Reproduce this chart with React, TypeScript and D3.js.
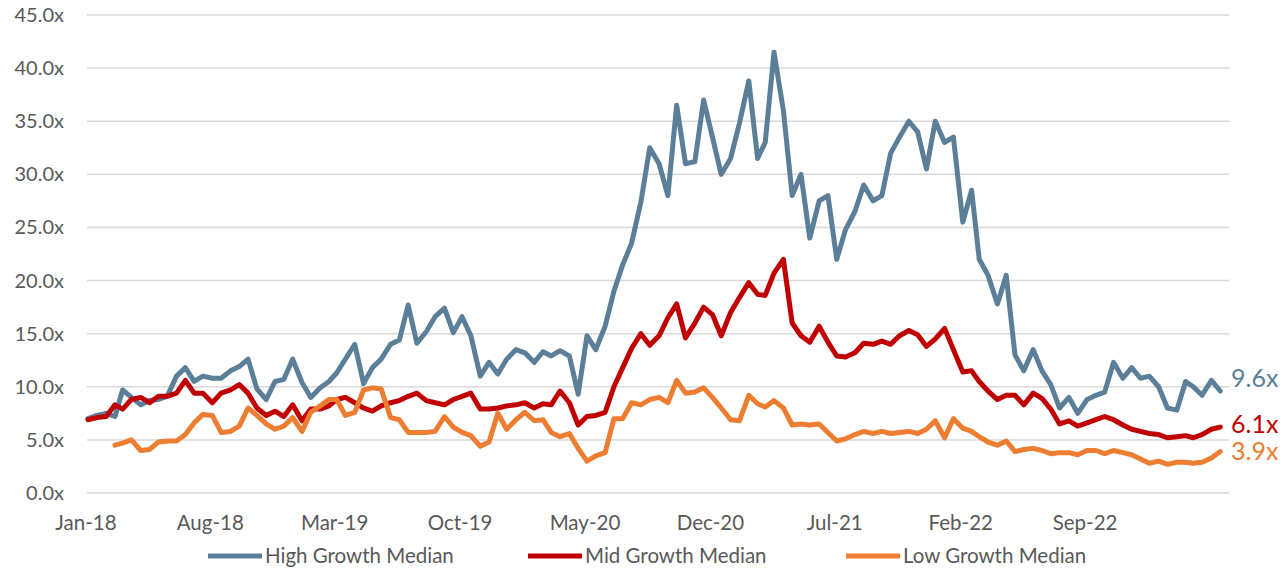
import React, { useEffect, useRef } from 'react';
import * as d3 from 'd3';

// half-monthly readings (1st and 16th of each month), Jan-18 .. Apr-23
const highGrowth = [
  7.0, 7.3, 7.5, 7.2, 9.7, 9.0, 8.3, 8.7, 8.8, 9.1, 11.0, 11.8, 10.5, 11.0, 10.8, 10.8,
  11.5, 11.9, 12.6, 9.8, 8.8, 10.5, 10.7, 12.6, 10.4, 9.0, 9.9, 10.5, 11.3, 12.6, 14.0, 10.3,
  11.8, 12.6, 14.0, 14.4, 17.7, 14.1, 15.2, 16.6, 17.4, 15.1, 16.6, 14.8, 11.0, 12.3, 11.2, 12.6,
  13.5, 13.2, 12.3, 13.3, 12.9, 13.4, 12.9, 9.3, 14.8, 13.5, 15.7, 19.0, 21.5, 23.5, 27.4, 32.5,
  31.0, 28.0, 36.5, 31.0, 31.2, 37.0, 33.5, 30.0, 31.5, 34.8, 38.8, 31.5, 33.0, 41.5, 36.0, 28.0,
  30.0, 24.0, 27.5, 28.0, 22.0, 24.8, 26.5, 29.0, 27.5, 28.0, 32.0, 33.5, 35.0, 34.0, 30.5, 35.0,
  33.0, 33.5, 25.5, 28.5, 22.0, 20.5, 17.8, 20.5, 13.0, 11.5, 13.5, 11.5, 10.2, 8.0, 9.0, 7.5,
  8.8, 9.2, 9.5, 12.3, 10.8, 11.8, 10.8, 11.0, 10.0, 8.0, 7.8, 10.5, 10.0, 9.2, 10.6, 9.6,
];

const midGrowth = [
  6.9, 7.1, 7.2, 8.3, 7.9, 8.8, 9.0, 8.5, 9.1, 9.1, 9.4, 10.6, 9.4, 9.4, 8.5, 9.4,
  9.7, 10.2, 9.4, 8.0, 7.3, 7.7, 7.2, 8.3, 6.8, 7.9, 7.9, 8.2, 8.8, 9.0, 8.5, 8.0,
  7.7, 8.2, 8.5, 8.7, 9.1, 9.4, 8.7, 8.5, 8.3, 8.8, 9.1, 9.4, 7.9, 7.9, 8.0, 8.2,
  8.3, 8.5, 8.0, 8.4, 8.3, 9.6, 8.5, 6.4, 7.2, 7.3, 7.6, 10.0, 11.8, 13.6, 15.0, 13.9,
  14.8, 16.5, 17.8, 14.6, 16.0, 17.5, 16.8, 14.8, 17.0, 18.4, 19.8, 18.7, 18.6, 20.7, 22.0, 16.0,
  14.8, 14.2, 15.7, 14.2, 12.9, 12.8, 13.2, 14.1, 14.0, 14.3, 14.0, 14.8, 15.3, 14.9, 13.8, 14.5,
  15.5, 13.5, 11.4, 11.5, 10.5, 9.6, 8.8, 9.2, 9.2, 8.3, 9.4, 8.9, 7.9, 6.5, 6.8, 6.3,
  6.6, 6.9, 7.2, 6.9, 6.4, 6.0, 5.8, 5.6, 5.5, 5.2, 5.3, 5.4, 5.2, 5.5, 6.0, 6.2,
];

const lowGrowth: (number | null)[] = [
  null, null, null, 4.5, 4.7, 5.0, 4.0, 4.1, 4.8, 4.9, 4.9, 5.5, 6.6, 7.4, 7.3, 5.7,
  5.8, 6.3, 8.0, 7.3, 6.5, 6.0, 6.3, 7.1, 5.8, 7.6, 8.2, 8.8, 8.8, 7.3, 7.6, 9.7,
  9.9, 9.8, 7.1, 6.9, 5.7, 5.7, 5.7, 5.8, 7.2, 6.2, 5.7, 5.4, 4.4, 4.8, 7.5, 6.0,
  6.9, 7.6, 6.8, 6.9, 5.7, 5.3, 5.6, 4.2, 3.0, 3.5, 3.8, 7.0, 7.0, 8.5, 8.3, 8.8,
  9.0, 8.5, 10.6, 9.4, 9.5, 9.9, 9.0, 8.0, 6.9, 6.8, 9.2, 8.4, 8.1, 8.7, 8.0, 6.4,
  6.5, 6.4, 6.5, 5.7, 4.9, 5.1, 5.5, 5.8, 5.6, 5.8, 5.6, 5.7, 5.8, 5.6, 6.0, 6.8,
  5.2, 7.0, 6.1, 5.8, 5.3, 4.8, 4.5, 4.9, 3.9, 4.1, 4.2, 4.0, 3.7, 3.8, 3.8, 3.6,
  4.0, 4.0, 3.7, 4.0, 3.8, 3.6, 3.2, 2.8, 3.0, 2.7, 2.9, 2.9, 2.8, 2.9, 3.3, 3.9,
];

const xTickLabels = ['Jan-18', 'Aug-18', 'Mar-19', 'Oct-19', 'May-20', 'Dec-20', 'Jul-21', 'Feb-22', 'Sep-22'];
const yTicks = [0, 5, 10, 15, 20, 25, 30, 35, 40, 45];
const seriesNames = ['High Growth Median', 'Mid Growth Median', 'Low Growth Median'];
const endLabels = ['9.6x', '6.1x', '3.9x'];
const colors = ['#5b7f99', '#c00000', '#ed7d31'];

const dates = d3.range(highGrowth.length).map(i => new Date(2018, Math.floor(i / 2), i % 2 ? 16 : 1));

const App: React.FC = () => {
  const ref = useRef<SVGSVGElement | null>(null);

  useEffect(() => {
    if (!ref.current) return;
    const svg = d3.select(ref.current);
    svg.selectAll('*').remove();

    const font = 'Lato, "Open Sans", sans-serif';
    const x = d3.scaleTime()
      .domain([new Date(2018, 0, 1), new Date(2023, 4, 1)])
      .range([88, 1229]);
    const y = d3.scaleLinear().domain([0, 45]).range([493, 15]);

    // gridlines
    svg.append('g')
      .selectAll('line')
      .data(yTicks)
      .join('line')
      .attr('x1', 87)
      .attr('x2', 1229)
      .attr('y1', d => y(d))
      .attr('y2', d => y(d))
      .attr('stroke', '#d9d9d9')
      .attr('stroke-width', 1.5);

    // y labels
    svg.append('g')
      .selectAll('text')
      .data(yTicks)
      .join('text')
      .attr('x', 64)
      .attr('y', d => y(d))
      .attr('dy', '0.35em')
      .attr('text-anchor', 'end')
      .attr('font-family', font)
      .attr('font-size', 20)
      .attr('fill', '#595959')
      .text(d => d.toFixed(1) + 'x');

    // x labels
    const parse = d3.timeParse('%b-%y');
    svg.append('g')
      .selectAll('text')
      .data(xTickLabels)
      .join('text')
      .attr('x', d => x(parse(d) as Date) - 2)
      .attr('y', 523)
      .attr('dy', '0.35em')
      .attr('text-anchor', 'middle')
      .attr('font-family', font)
      .attr('font-size', 20.5)
      .attr('fill', '#595959')
      .text(d => d);

    const series = [highGrowth, midGrowth, lowGrowth];
    const line = d3.line<number | null>()
      .defined(d => d != null)
      .x((_, i) => x(dates[i]))
      .y(d => y(d as number));

    series.forEach((vals, k) => {
      svg.append('path')
        .datum(vals)
        .attr('fill', 'none')
        .attr('stroke', colors[k])
        .attr('stroke-width', 5)
        .attr('stroke-linejoin', 'round')
        .attr('stroke-linecap', 'round')
        .attr('d', line);
    });

    // end labels
    const labelOffsets = [-13, -3, 0];
    series.forEach((vals, k) => {
      const last = vals[vals.length - 1] as number;
      svg.append('text')
        .attr('x', 1231)
        .attr('y', y(last) + labelOffsets[k])
        .attr('dy', '0.35em')
        .attr('font-family', font)
        .attr('font-size', 25)
        .attr('fill', colors[k])
        .text(endLabels[k]);
    });

    // legend
    const legendX = [208, 528, 846];
    const lg = svg.append('g');
    seriesNames.forEach((name, k) => {
      lg.append('line')
        .attr('x1', legendX[k])
        .attr('x2', legendX[k] + 54)
        .attr('y1', 556)
        .attr('y2', 556)
        .attr('stroke', colors[k])
        .attr('stroke-width', 5);
      lg.append('text')
        .attr('x', legendX[k] + 57)
        .attr('y', 556)
        .attr('dy', '0.35em')
        .attr('font-family', font)
        .attr('font-size', 20.5)
        .attr('fill', '#595959')
        .text(name);
    });
  }, []);

  return (
    <svg
      ref={ref}
      width={1287}
      height={568}
      style={{ position: 'absolute', left: 0, top: 0, background: '#fff' }}
    />
  );
};

export default App;
